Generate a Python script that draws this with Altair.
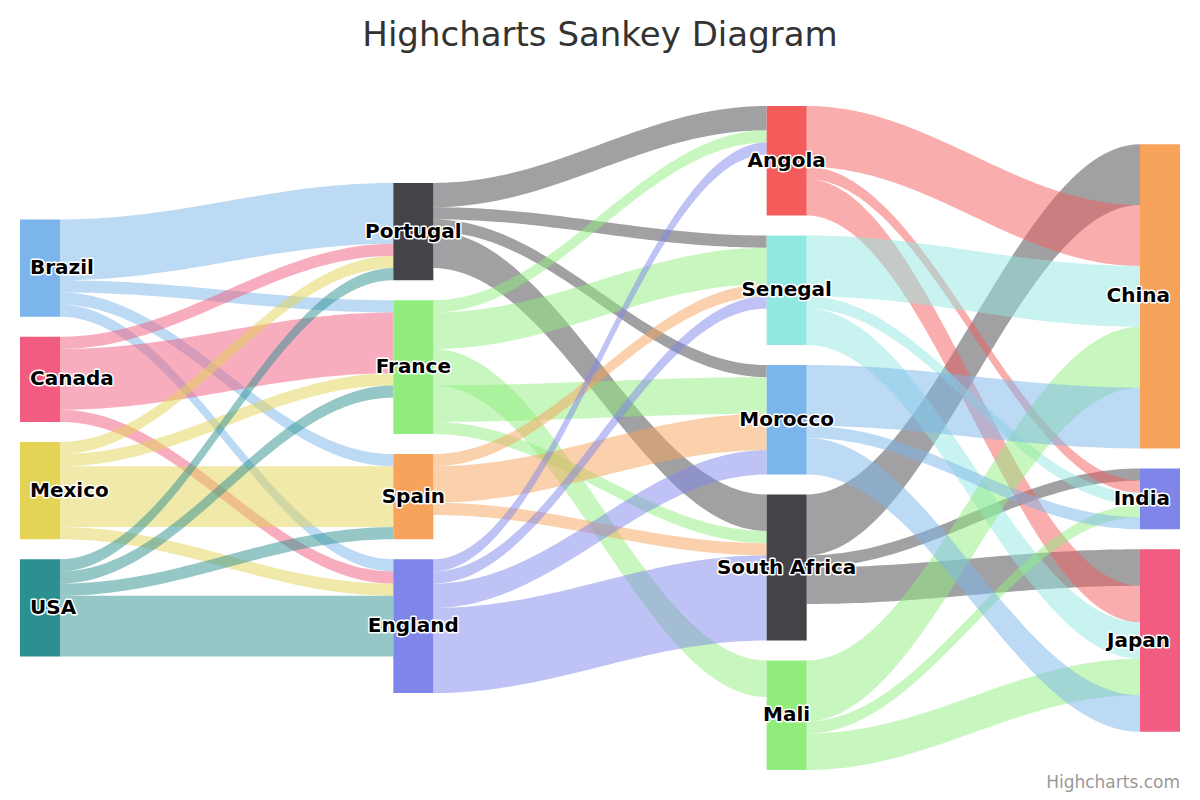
import altair as alt
import pandas as pd

# ---------------- data ----------------
link_from = ["Brazil", "Brazil", "Brazil", "Brazil",
             "Canada", "Canada", "Canada",
             "Mexico", "Mexico", "Mexico", "Mexico",
             "USA", "USA", "USA", "USA",
             "Portugal", "Portugal", "Portugal", "Portugal",
             "France", "France", "France", "France", "France",
             "Spain", "Spain", "Spain",
             "England", "England", "England", "England",
             "South Africa", "South Africa", "South Africa",
             "Angola", "Angola", "Angola",
             "Senegal", "Senegal", "Senegal",
             "Mali", "Mali", "Mali",
             "Morocco", "Morocco", "Morocco"]
link_to = ["Portugal", "France", "Spain", "England",
           "Portugal", "France", "England",
           "Portugal", "France", "Spain", "England",
           "Portugal", "France", "Spain", "England",
           "Angola", "Senegal", "Morocco", "South Africa",
           "Angola", "Senegal", "Mali", "Morocco", "South Africa",
           "Senegal", "Morocco", "South Africa",
           "Angola", "Senegal", "Morocco", "South Africa",
           "China", "India", "Japan",
           "China", "India", "Japan",
           "China", "India", "Japan",
           "China", "India", "Japan",
           "China", "India", "Japan"]
link_weight = [5, 1, 1, 1,
               1, 5, 1,
               1, 1, 5, 1,
               1, 1, 1, 5,
               2, 1, 1, 3,
               1, 3, 3, 3, 1,
               1, 3, 1,
               1, 1, 2, 7,
               5, 1, 3,
               5, 1, 3,
               5, 1, 3,
               5, 1, 3,
               5, 1, 3]
palette = ["#7cb5ec", "#434348", "#90ed7d", "#f7a35c", "#8085e9",
           "#f15c80", "#e4d354", "#2b908f", "#f45b5b", "#91e8e1"]

title_text = "Highcharts Sankey Diagram"
credit_text = "Highcharts.com"

# ---------------- layout parameters ----------------
PLOT_H = 664.0
NODE_PAD = 20.0
NODE_W_PX = 40.0
COL_SPACING_PX = 373.33
CURVE = 0.33

# ---------------- sankey layout ----------------
nodes = []
for f, t in zip(link_from, link_to):
    for n in (f, t):
        if n not in nodes:
            nodes.append(n)
node_color = {n: palette[i % len(palette)] for i, n in enumerate(nodes)}

col = {n: 0 for n in nodes}
changed = True
while changed:
    changed = False
    for f, t in zip(link_from, link_to):
        if col[t] < col[f] + 1:
            col[t] = col[f] + 1
            changed = True
n_cols = max(col.values()) + 1

val_in = {n: 0 for n in nodes}
val_out = {n: 0 for n in nodes}
for f, t, w in zip(link_from, link_to, link_weight):
    val_out[f] += w
    val_in[t] += w
value = {n: max(val_in[n], val_out[n]) for n in nodes}

columns = [[n for n in nodes if col[n] == c] for c in range(n_cols)]
factor = min((PLOT_H - (len(cn) - 1) * NODE_PAD) / sum(value[n] for n in cn) for cn in columns)
pad_u = NODE_PAD / factor
y_total = PLOT_H / factor
node_w = NODE_W_PX / COL_SPACING_PX

y0 = {}
for cn in columns:
    tot = sum(value[n] for n in cn) + (len(cn) - 1) * pad_u
    cur = (y_total - tot) / 2
    for n in cn:
        y0[n] = cur
        cur += value[n] + pad_u

node_df = pd.DataFrame({
    "name": nodes,
    "x0": [col[n] for n in nodes],
    "x1": [col[n] + node_w for n in nodes],
    "y0": [y0[n] for n in nodes],
    "y1": [y0[n] + value[n] for n in nodes],
})
node_df["ym"] = (node_df["y0"] + node_df["y1"]) / 2
node_df["anchor"] = ["left" if col[n] == 0 else ("right" if col[n] == n_cols - 1 else "center")
                     for n in nodes]
node_df["lx"] = [col[n] if col[n] == 0 else (col[n] + node_w if col[n] == n_cols - 1 else col[n] + node_w / 2)
                 for n in nodes]

out_cur = dict(y0)
in_cur = dict(y0)
rows = []
N = 60
for i, (f, t, w) in enumerate(zip(link_from, link_to, link_weight)):
    fy = out_cur[f]
    out_cur[f] += w
    ty = in_cur[t]
    in_cur[t] += w
    xa = col[f] + node_w
    xb = col[t]
    curvy = (col[t] - col[f]) * CURVE
    p = [(xa, fy), (xa + curvy, fy), (xb - curvy, ty), (xb, ty)]
    for k in range(N + 1):
        s = k / N
        b = [(1 - s) ** 3, 3 * (1 - s) ** 2 * s, 3 * (1 - s) * s ** 2, s ** 3]
        x = sum(bb * pp[0] for bb, pp in zip(b, p))
        y = sum(bb * pp[1] for bb, pp in zip(b, p))
        rows.append({"link": f"L{i:02d}", "src": f, "dst": t, "xp": x, "ytop": y, "ybot": y + w})
link_df = pd.DataFrame(rows)

# ---------------- chart ----------------
x_scale = alt.Scale(domain=[0, n_cols - 1 + node_w], range=[12, 1172], zero=False, nice=False)
y_scale = alt.Scale(domain=[0, y_total], range=[98, 762], zero=False, nice=False)
color_scale = alt.Scale(domain=nodes, range=[node_color[n] for n in nodes])

links = alt.Chart(link_df).mark_area(fillOpacity=0.5, opacity=1).encode(
    x=alt.X("xp:Q", scale=x_scale, axis=None),
    y=alt.Y("ytop:Q", scale=y_scale, axis=None, stack=None),
    y2="ybot:Q",
    detail="link:N",
    color=alt.Color("src:N", scale=color_scale, legend=None),
)

rects = alt.Chart(node_df).mark_rect(strokeWidth=0).encode(
    x=alt.X("x0:Q", scale=x_scale, axis=None),
    x2="x1:Q",
    y=alt.Y("y0:Q", scale=y_scale, axis=None),
    y2="y1:Q",
    color=alt.Color("name:N", scale=color_scale, legend=None),
)

FONT = "DejaVu Sans"
LBL_SIZE = 20


def label_layers(anchor, dx):
    base = alt.Chart(node_df).transform_filter(alt.datum.anchor == anchor)
    enc = dict(
        x=alt.X("lx:Q", scale=x_scale, axis=None),
        y=alt.Y("ym:Q", scale=y_scale, axis=None),
        text="name:N",
    )
    halo = base.mark_text(align=anchor, baseline="middle", dx=dx, font=FONT, fontSize=LBL_SIZE,
                          fontWeight="bold", fill="white", stroke="white", strokeWidth=3,
                          strokeJoin="round").encode(**enc)
    txt = base.mark_text(align=anchor, baseline="middle", dx=dx, font=FONT, fontSize=LBL_SIZE,
                         fontWeight="bold", fill="#000000").encode(**enc)
    return [halo, txt]


labels = label_layers("left", 10) + label_layers("center", 0) + label_layers("right", -10)

title = alt.Chart(pd.DataFrame({"t": [title_text]})).mark_text(
    align="center", baseline="middle", font=FONT, fontSize=34, fill="#333333"
).encode(x=alt.value(592), y=alt.value(28), text="t:N")

credit = alt.Chart(pd.DataFrame({"t": [credit_text]})).mark_text(
    align="right", baseline="middle", font=FONT, fontSize=17, fill="#999999"
).encode(x=alt.value(1172), y=alt.value(775), text="t:N")

chart = alt.layer(links, rects, *labels, title, credit).properties(
    width=1184, height=784, padding=0, autosize=alt.AutoSizeParams(type="none"),
    background="white",
).configure_view(stroke=None)

chart.save("out.html", embed_options={"renderer": "svg", "actions": False})
